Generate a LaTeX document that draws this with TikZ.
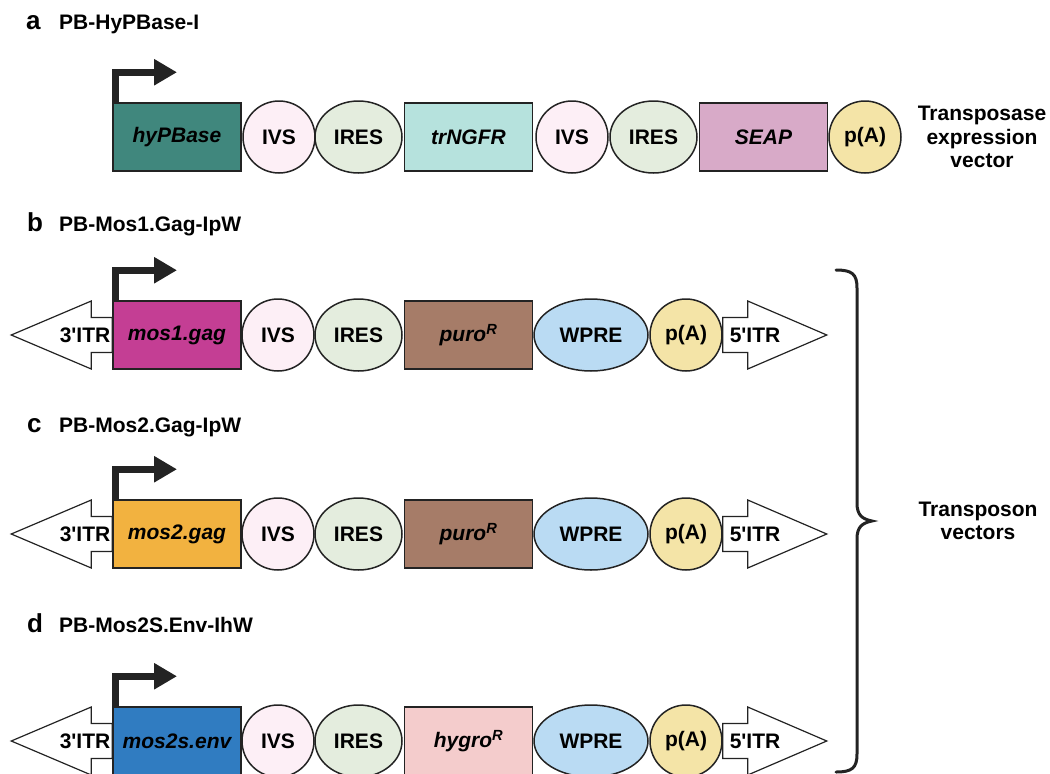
\documentclass[tikz,border=0pt]{standalone}
\usepackage{fontspec}
\setmainfont{Liberation Sans}
\usepackage{tikz}
\usetikzlibrary{positioning, shapes.geometric, arrows.meta}
\definecolor{linecol}{RGB}{35,35,35}
\definecolor{hypbcol}{RGB}{64,135,125}
\definecolor{trngfrcol}{RGB}{182,226,221}
\definecolor{seapcol}{RGB}{216,170,200}
\definecolor{ivscol}{RGB}{253,239,246}
\definecolor{irescol}{RGB}{228,237,222}
\definecolor{pAcol}{RGB}{244,228,167}
\definecolor{mosonecol}{RGB}{196,62,148}
\definecolor{purocol}{RGB}{166,124,104}
\definecolor{wprecol}{RGB}{186,219,243}
\definecolor{mostwocol}{RGB}{242,178,64}
\definecolor{mosenvcol}{RGB}{48,124,193}
\definecolor{hygrocol}{RGB}{244,204,204}
\newcommand{\labfont}{\fontsize{21}{23.5}\selectfont\bfseries}
\newcommand{\genefont}{\fontsize{21}{23.5}\selectfont\bfseries\itshape}
\newcommand{\letterfont}{\fontsize{26}{28}\selectfont\bfseries}
\newcommand{\itrthree}{3\textquotesingle ITR}
\newcommand{\itrfive}{5\textquotesingle ITR}
\tikzset{
    genenode/.style = {draw=linecol, rectangle, line width=1.5pt, inner sep=0pt,
      minimum width=128pt, minimum height=68pt, node distance=0em, font=\genefont},
    ellnode/.style = {draw=linecol, ellipse, line width=1.5pt, inner sep=0pt,
      minimum height=72pt, node distance=0em, font=\labfont},
    ivsnode/.style = {ellnode, fill=ivscol, minimum width=72pt},
    iresnode/.style = {ellnode, fill=irescol, minimum width=87pt},
    wprenode/.style = {ellnode, fill=wprecol, minimum width=114pt},
    pAnode/.style = {ellnode, fill=pAcol, minimum width=72pt},
    textnode/.style = {draw=none, fill=none, rectangle, inner sep=0pt, node distance=0em, font=\labfont},
    letternode/.style = {textnode, anchor=base west, font=\letterfont},
    headnode/.style = {textnode, anchor=base west},
    promoter/.style = {draw=linecol, line width=7pt, -{Triangle[length=23pt,width=25pt]}},
    itrarrow/.style = {draw=linecol, line width=1.2pt, fill=white, line join=miter},
    bracepath/.style = {draw=linecol, line width=3pt, line cap=round},
    every text node part/.style={align=center}
}

\begin{document}
\begin{tikzpicture}[x=1pt, y=-1pt, node distance=0em]
    \useasboundingbox (0,0) rectangle (1050,774);

    % a: transposase vector
    \node [name=laba, letternode] at (26,29) {a};
    \node [name=heada, headnode] at (59,29) {PB-HyPBase-I};
    \node [name=hypb, genenode, fill=hypbcol] at (177,137) {hyPBase};
    \node [name=ivsa1, ivsnode, right of = hypb, xshift=102pt] {IVS};
    \node [name=iresa1, iresnode, right of = hypb, xshift=181.5pt] {IRES};
    \node [name=trngfr, genenode, fill=trngfrcol, right of = hypb, xshift=291.5pt] {trNGFR};
    \node [name=ivsa2, ivsnode, right of = hypb, xshift=395pt] {IVS};
    \node [name=iresa2, iresnode, right of = hypb, xshift=476.5pt] {IRES};
    \node [name=seap, genenode, fill=seapcol, right of = hypb, xshift=586.5pt] {SEAP};
    \node [name=pAa, pAnode, right of = hypb, xshift=688pt] {p(A)};
    \node [name=tpase, textnode, right of = hypb, xshift=805pt] {Transposase\\expression\\vector};
    \draw [promoter] ([xshift=3.5pt]hypb.north west) |- ([yshift=30pt]hypb.north);

    % b: mos1.gag transposon
    \node [name=labb, letternode] at (27,231) {b};
    \node [name=headb, headnode] at (59,231) {PB-Mos1.Gag-IpW};
    \node [name=mosb, genenode, fill=mosonecol] at (177,335) {mos1.gag};
    \node [name=ivsb, ivsnode, right of = mosb, xshift=101pt] {IVS};
    \node [name=iresb, iresnode, right of = mosb, xshift=181.5pt] {IRES};
    \node [name=purob, genenode, fill=purocol, right of = mosb, xshift=291.5pt] {puro\textsuperscript{R}};
    \node [name=wpreb, wprenode, right of = mosb, xshift=414pt] {WPRE};
    \node [name=pAb, pAnode, right of = mosb, xshift=509pt] {p(A)};
    \draw [promoter] ([xshift=3.5pt]mosb.north west) |- ([yshift=30pt]mosb.north);
    \draw [itrarrow] ([yshift=17.5pt]mosb.west) -- ++(-21,0) -- ++(0,-16.5) -- ++(-80,34)
        -- ++(80,34) -- ++(0,-16.5) -- ++(21,0) -- cycle;
    \draw [itrarrow] ([yshift=17.5pt]pAb.east) -- ++(25,0) -- ++(0,-16.5) -- ++(79,34)
        -- ++(-79,34) -- ++(0,-16.5) -- ++(-25,0) -- cycle;
    \node [name=itrlb, textnode, left of = mosb, xshift=-92pt] {\itrthree};
    \node [name=itrrb, textnode, right of = pAb, xshift=69pt] {\itrfive};

    % c: mos2.gag transposon
    \node [name=labc, letternode] at (27,432) {c};
    \node [name=headc, headnode] at (59,432) {PB-Mos2.Gag-IpW};
    \node [name=mosc, genenode, fill=mostwocol] at (177,534) {mos2.gag};
    \node [name=ivsc, ivsnode, right of = mosc, xshift=101pt] {IVS};
    \node [name=iresc, iresnode, right of = mosc, xshift=181.5pt] {IRES};
    \node [name=puroc, genenode, fill=purocol, right of = mosc, xshift=291.5pt] {puro\textsuperscript{R}};
    \node [name=wprec, wprenode, right of = mosc, xshift=414pt] {WPRE};
    \node [name=pAc, pAnode, right of = mosc, xshift=509pt] {p(A)};
    \draw [promoter] ([xshift=3.5pt]mosc.north west) |- ([yshift=30pt]mosc.north);
    \draw [itrarrow] ([yshift=17.5pt]mosc.west) -- ++(-21,0) -- ++(0,-16.5) -- ++(-80,34)
        -- ++(80,34) -- ++(0,-16.5) -- ++(21,0) -- cycle;
    \draw [itrarrow] ([yshift=17.5pt]pAc.east) -- ++(25,0) -- ++(0,-16.5) -- ++(79,34)
        -- ++(-79,34) -- ++(0,-16.5) -- ++(-25,0) -- cycle;
    \node [name=itrlc, textnode, left of = mosc, xshift=-92pt] {\itrthree};
    \node [name=itrrc, textnode, right of = pAc, xshift=69pt] {\itrfive};

    % d: mos2s.env transposon
    \node [name=labd, letternode] at (27,632) {d};
    \node [name=headd, headnode] at (59,632) {PB-Mos2S.Env-IhW};
    \node [name=mosd, genenode, fill=mosenvcol] at (177,741) {mos2s.env};
    \node [name=ivsd, ivsnode, right of = mosd, xshift=101pt] {IVS};
    \node [name=iresd, iresnode, right of = mosd, xshift=181.5pt] {IRES};
    \node [name=hygrod, genenode, fill=hygrocol, right of = mosd, xshift=291.5pt] {hygro\textsuperscript{R}};
    \node [name=wpred, wprenode, right of = mosd, xshift=414pt] {WPRE};
    \node [name=pAd, pAnode, right of = mosd, xshift=509pt] {p(A)};
    \draw [promoter] ([xshift=3.5pt]mosd.north west) |- ([yshift=30pt]mosd.north);
    \draw [itrarrow] ([yshift=17.5pt]mosd.west) -- ++(-21,0) -- ++(0,-16.5) -- ++(-80,34)
        -- ++(80,34) -- ++(0,-16.5) -- ++(21,0) -- cycle;
    \draw [itrarrow] ([yshift=17.5pt]pAd.east) -- ++(25,0) -- ++(0,-16.5) -- ++(79,34)
        -- ++(-79,34) -- ++(0,-16.5) -- ++(-25,0) -- cycle;
    \node [name=itrld, textnode, left of = mosd, xshift=-92pt] {\itrthree};
    \node [name=itrrd, textnode, right of = pAd, xshift=69pt] {\itrfive};

    % brace over b-d
    \draw [bracepath] (836,270) .. controls (852,270) and (857,274) .. (857,288) -- (857,503)
        .. controls (857,515) and (862,519) .. (872,521) .. controls (862,523) and (857,527) .. (857,539)
        -- (857,754) .. controls (857,768) and (852,772) .. (836,772);
    \node [name=tpson, textnode] at (978,521) {Transposon\\vectors};
\end{tikzpicture}
\end{document}
